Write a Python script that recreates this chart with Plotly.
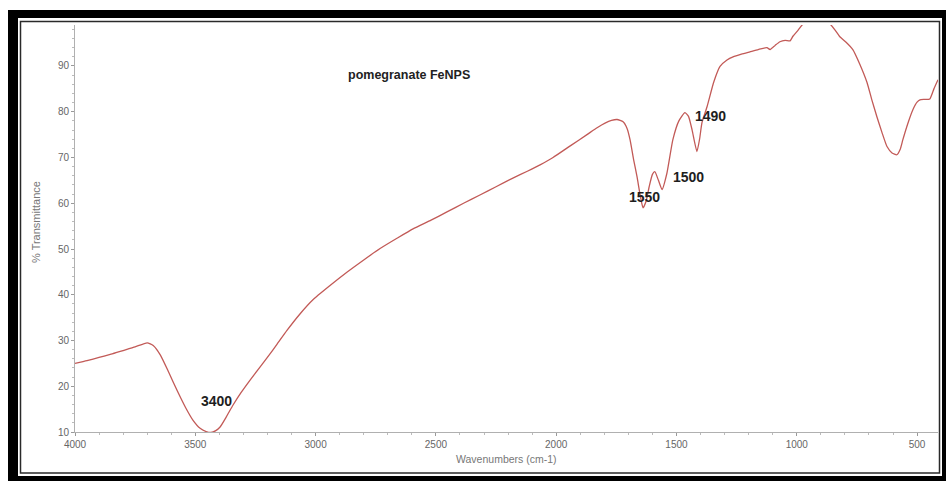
import plotly.graph_objects as go

# FTIR spectrum of pomegranate FeNPs
wavenumber = [4000, 3950, 3900, 3850, 3800, 3750, 3700, 3675, 3645, 3610, 3575,
              3540, 3510, 3480, 3455, 3435, 3415, 3397, 3370, 3343, 3310, 3273,
              3240, 3202, 3160, 3119, 3065, 3011, 2940, 2870, 2800, 2732, 2660,
              2595, 2520, 2454, 2385, 2317, 2250, 2180, 2120, 2067, 2013, 1940,
              1872, 1830, 1797, 1770, 1747, 1722, 1705, 1693, 1678, 1664, 1650,
              1639, 1626, 1614, 1600, 1590, 1575, 1560, 1540, 1515, 1490, 1465,
              1450, 1435, 1415, 1404, 1394, 1373, 1345, 1319, 1290, 1265, 1230,
              1195, 1160, 1124, 1111, 1090, 1070, 1048, 1028, 1016, 995, 974,
              950, 925, 895, 862, 840, 821, 795, 767, 738, 708, 688, 667, 646,
              625, 604, 584, 570, 559, 538, 517, 500, 488, 468, 447, 430, 413]
transmittance = [25.0, 25.6, 26.3, 27.0, 27.8, 28.6, 29.5, 28.9, 26.8, 23.0, 19.0,
                 15.3, 12.6, 10.8, 10.1, 9.9, 10.3, 11.1, 13.4, 15.9, 18.6, 21.3,
                 23.6, 26.2, 29.2, 32.2, 35.8, 38.9, 42.0, 44.9, 47.6, 50.1, 52.4,
                 54.4, 56.3, 58.1, 60.0, 61.8, 63.6, 65.5, 67.0, 68.4, 70.0, 72.6,
                 75.0, 76.5, 77.5, 78.1, 78.3, 77.8, 76.3, 73.9, 69.5, 65.8, 61.5,
                 59.0, 60.5, 63.5, 66.3, 66.9, 65.0, 63.0, 66.5, 73.9, 78.0, 79.8,
                 79.0, 76.0, 71.3, 74.0, 77.6, 81.1, 86.5, 89.9, 91.3, 92.0, 92.6,
                 93.1, 93.6, 94.0, 93.6, 94.5, 95.3, 95.6, 95.5, 96.5, 97.8, 99.2,
                 100.5, 101.0, 100.6, 99.2, 97.8, 96.4, 95.2, 93.6, 90.4, 86.4, 82.6,
                 78.9, 75.5, 72.4, 71.0, 70.6, 71.8, 73.9, 77.5, 80.5, 82.1, 82.6,
                 82.7, 82.8, 85.0, 87.0]

x_ticks = [4000, 3500, 3000, 2500, 2000, 1500, 1000, 500]
y_ticks = [10, 20, 30, 40, 50, 60, 70, 80, 90]

# band labels: (text, wavenumber, transmittance)
band_labels = [("3400", 3410, 16.8), ("1550", 1635, 61.4),
               ("1500", 1452, 65.7), ("1490", 1357, 79.0)]

W, H = 946, 481
L, R, T, B = 75, 938, 25, 432  # plot area in pixels


def px(x):
    return (x - L) / (R - L)


def py(y):
    return (B - y) / (B - T)


fig = go.Figure()
fig.add_trace(go.Scatter(
    x=wavenumber, y=transmittance, mode="lines",
    line=dict(color="#c25a57", width=1.3, shape="spline", smoothing=0.5),
    hoverinfo="skip", showlegend=False,
))

fig.update_xaxes(
    range=[4000, 413], tickvals=x_ticks, ticks="outside", ticklen=3,
    tickcolor="#999", showline=True, linecolor="#b0b0b0", linewidth=1,
    showgrid=False, zeroline=False,
    tickfont=dict(family="Liberation Sans", size=10, color="#666"),
    minor=dict(dtick=100, ticks="outside", ticklen=2, tickcolor="#bbb"),
)
fig.update_yaxes(
    range=[10, 98.96], tickvals=y_ticks, ticks="outside", ticklen=3,
    tickcolor="#999", showline=True, linecolor="#b0b0b0", linewidth=1,
    showgrid=False, zeroline=False,
    tickfont=dict(family="Liberation Sans", size=10, color="#666"),
    minor=dict(dtick=2, ticks="outside", ticklen=2, tickcolor="#bbb"),
)

annotations = [
    dict(text="pomegranate FeNPS", x=px(409), y=py(66), xref="paper", yref="paper",
         showarrow=False, font=dict(family="Liberation Sans", size=12.5, color="#222",
                                    weight="bold")),
    dict(text="Wavenumbers (cm-1)", x=px(506), y=py(467), xref="paper", yref="paper",
         showarrow=False, font=dict(family="Liberation Sans", size=10.5, color="#777")),
    dict(text="% Transmittance", x=px(28), y=py(222), xref="paper", yref="paper",
         textangle=-90, showarrow=False,
         font=dict(family="Liberation Sans", size=11, color="#777")),
]
for txt, wx, ty in band_labels:
    annotations.append(dict(text=txt, x=wx, y=ty, xref="x", yref="y", showarrow=False,
                            font=dict(family="Liberation Sans", size=14, color="#1e1e1e",
                                      weight="bold")))

# black document frame around the figure
bands = [(8, 10, 18, 481), (8, 10, 946, 18), (942, 10, 946, 481), (8, 476, 946, 481)]
shapes = []
for x0, y0, x1, y1 in bands:
    shapes.append(dict(type="rect", xref="paper", yref="paper",
                       x0=px(x0), x1=px(x1), y0=py(y1), y1=py(y0),
                       fillcolor="black", line=dict(width=0), layer="above"))
shapes.append(dict(type="rect", xref="paper", yref="paper",
                   x0=px(20.5), x1=px(939.5), y0=py(473), y1=py(21.5),
                   line=dict(color="#2a2a2a", width=1.5), layer="above"))

fig.update_layout(
    width=W, height=H,
    margin=dict(l=L, r=W - R, t=T, b=H - B),
    paper_bgcolor="white", plot_bgcolor="white",
    annotations=annotations, shapes=shapes,
)

fig.write_html("out.html")
